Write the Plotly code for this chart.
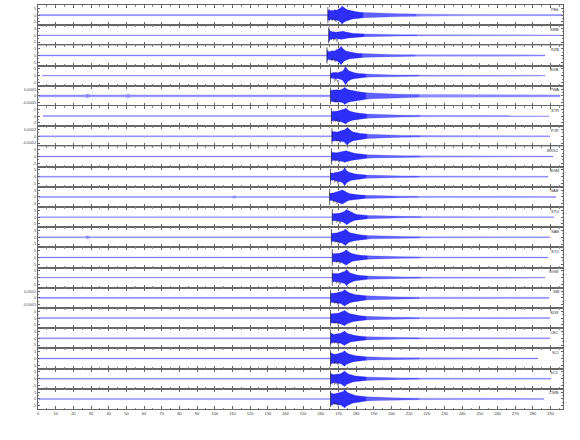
import plotly.graph_objects as go
from plotly.subplots import make_subplots

# ---------------- data ----------------
stations = ["PE6", "SMB", "RZB", "BGB", "PWA", "STR", "PJR", "BRG2", "BGM", "GAB",
            "STU", "SAB", "STO", "SGW", "SBI", "SDR", "CEC", "SCI", "SC2", "CWB"]
# P pick (onset) time in seconds
onsets = [164.0, 164.5, 163.5, 165.5, 165.5, 166.0, 166.3, 166.0, 165.5, 165.0,
          166.5, 166.0, 166.5, 166.5, 165.5, 165.5, 165.5, 165.5, 165.5, 165.5]
trace_start = [0.3, 0.3, 0.3, 2.3, 0.3, 2.8, 0.3, 0.3, 0.3, 0.3,
               0.3, 0.3, 0.3, 0.3, 0.3, 0.3, 0.3, 0.3, 0.3, 0.3]
trace_end = [296.4, 296.0, 286.8, 286.8, 295.2, 289.0, 289.6, 291.3, 288.5, 293.0,
             291.9, 289.6, 288.5, 286.8, 289.0, 289.6, 289.6, 282.8, 290.2, 286.2]
# pre-event noise half-amplitude (normalised units)
noise = [0.06, 0.04, 0.06, 0.04, 0.10, 0.05, 0.05, 0.04, 0.05, 0.05,
         0.04, 0.05, 0.04, 0.04, 0.06, 0.05, 0.05, 0.05, 0.05, 0.05]
# seconds after the pick where the envelope was read
rel_t = [0, 0.5, 1, 1.5, 2, 3, 4, 5, 6, 7, 7.5, 8, 8.5, 9, 10, 11, 12, 13, 14, 16,
         18, 20, 23, 26, 30, 35, 40, 50, 65, 80]
# seconds after the pick where the trace colour fades (strong -> medium -> light)
fade_at = [20, 50]
env = [
    [0.55, 0.45, 0.60, 0.40, 0.50, 0.45, 0.55, 0.50, 0.60, 0.70, 0.80, 0.95, 0.85, 0.75, 0.65, 0.55, 0.50, 0.45, 0.40, 0.35, 0.30, 0.28, 0.25, 0.22, 0.20, 0.17, 0.15, 0.12, 0.09, 0.07],
    [0.70, 0.50, 0.40, 0.45, 0.35, 0.38, 0.32, 0.35, 0.38, 0.42, 0.45, 0.40, 0.42, 0.36, 0.32, 0.28, 0.26, 0.22, 0.20, 0.18, 0.16, 0.14, 0.12, 0.10, 0.09, 0.08, 0.07, 0.06, 0.05, 0.05],
    [0.60, 0.40, 0.45, 0.40, 0.45, 0.50, 0.45, 0.55, 0.60, 0.75, 0.85, 0.95, 0.80, 0.70, 0.55, 0.45, 0.40, 0.35, 0.30, 0.25, 0.22, 0.20, 0.17, 0.15, 0.12, 0.10, 0.09, 0.08, 0.07, 0.07],
    [0.30, 0.25, 0.30, 0.35, 0.30, 0.35, 0.30, 0.35, 0.40, 0.50, 0.65, 0.80, 0.95, 0.80, 0.55, 0.45, 0.38, 0.32, 0.28, 0.24, 0.20, 0.17, 0.14, 0.12, 0.10, 0.08, 0.07, 0.06, 0.05, 0.05],
    [0.55, 0.60, 0.55, 0.65, 0.60, 0.65, 0.60, 0.62, 0.65, 0.70, 0.80, 0.90, 0.80, 0.75, 0.65, 0.60, 0.55, 0.50, 0.48, 0.42, 0.38, 0.34, 0.30, 0.26, 0.22, 0.20, 0.18, 0.15, 0.13, 0.12],
    [0.50, 0.45, 0.55, 0.45, 0.50, 0.50, 0.55, 0.55, 0.60, 0.70, 0.75, 0.85, 0.75, 0.65, 0.55, 0.48, 0.42, 0.38, 0.34, 0.30, 0.26, 0.22, 0.19, 0.16, 0.13, 0.11, 0.09, 0.08, 0.07, 0.06],
    [0.55, 0.50, 0.45, 0.50, 0.45, 0.45, 0.50, 0.50, 0.55, 0.60, 0.70, 0.80, 0.90, 0.85, 0.65, 0.55, 0.45, 0.40, 0.35, 0.30, 0.26, 0.22, 0.19, 0.16, 0.13, 0.11, 0.09, 0.08, 0.07, 0.06],
    [0.50, 0.45, 0.40, 0.45, 0.40, 0.40, 0.45, 0.45, 0.50, 0.55, 0.60, 0.65, 0.60, 0.55, 0.48, 0.42, 0.38, 0.34, 0.30, 0.26, 0.22, 0.19, 0.16, 0.14, 0.12, 0.10, 0.08, 0.07, 0.06, 0.05],
    [0.40, 0.35, 0.40, 0.35, 0.40, 0.45, 0.45, 0.50, 0.55, 0.65, 0.80, 0.95, 0.80, 0.65, 0.50, 0.42, 0.36, 0.32, 0.28, 0.24, 0.20, 0.17, 0.15, 0.13, 0.11, 0.09, 0.08, 0.07, 0.06, 0.06],
    [0.40, 0.35, 0.40, 0.40, 0.40, 0.45, 0.50, 0.55, 0.65, 0.75, 0.70, 0.60, 0.55, 0.50, 0.42, 0.36, 0.32, 0.28, 0.25, 0.22, 0.19, 0.16, 0.14, 0.12, 0.10, 0.09, 0.08, 0.07, 0.06, 0.06],
    [0.40, 0.35, 0.35, 0.40, 0.35, 0.40, 0.40, 0.45, 0.50, 0.60, 0.70, 0.80, 0.75, 0.70, 0.55, 0.45, 0.38, 0.32, 0.28, 0.24, 0.20, 0.17, 0.15, 0.13, 0.11, 0.09, 0.08, 0.06, 0.05, 0.05],
    [0.45, 0.40, 0.45, 0.40, 0.45, 0.45, 0.50, 0.55, 0.60, 0.70, 0.80, 0.85, 0.75, 0.65, 0.52, 0.45, 0.40, 0.35, 0.30, 0.26, 0.22, 0.19, 0.16, 0.14, 0.12, 0.10, 0.08, 0.07, 0.06, 0.06],
    [0.45, 0.40, 0.40, 0.45, 0.40, 0.45, 0.45, 0.50, 0.55, 0.65, 0.75, 0.80, 0.70, 0.60, 0.50, 0.42, 0.36, 0.32, 0.28, 0.24, 0.20, 0.17, 0.15, 0.13, 0.11, 0.09, 0.08, 0.06, 0.05, 0.05],
    [0.40, 0.45, 0.40, 0.40, 0.45, 0.40, 0.45, 0.50, 0.55, 0.60, 0.70, 0.85, 0.75, 0.62, 0.50, 0.43, 0.37, 0.32, 0.28, 0.24, 0.20, 0.17, 0.15, 0.13, 0.11, 0.09, 0.08, 0.06, 0.05, 0.05],
    [0.50, 0.45, 0.50, 0.45, 0.50, 0.50, 0.55, 0.55, 0.60, 0.70, 0.80, 0.85, 0.80, 0.70, 0.58, 0.50, 0.44, 0.38, 0.34, 0.30, 0.26, 0.22, 0.19, 0.16, 0.13, 0.11, 0.10, 0.08, 0.07, 0.07],
    [0.50, 0.45, 0.45, 0.50, 0.45, 0.50, 0.50, 0.55, 0.60, 0.70, 0.75, 0.80, 0.72, 0.62, 0.52, 0.45, 0.40, 0.35, 0.30, 0.26, 0.22, 0.19, 0.16, 0.14, 0.12, 0.10, 0.08, 0.07, 0.06, 0.06],
    [0.60, 0.50, 0.45, 0.45, 0.40, 0.45, 0.45, 0.50, 0.55, 0.60, 0.70, 0.75, 0.65, 0.58, 0.48, 0.42, 0.36, 0.32, 0.28, 0.24, 0.20, 0.17, 0.15, 0.13, 0.11, 0.09, 0.08, 0.07, 0.06, 0.06],
    [0.65, 0.55, 0.50, 0.45, 0.45, 0.45, 0.50, 0.50, 0.55, 0.65, 0.75, 0.80, 0.70, 0.60, 0.50, 0.44, 0.38, 0.33, 0.29, 0.25, 0.21, 0.18, 0.15, 0.13, 0.11, 0.09, 0.08, 0.07, 0.06, 0.06],
    [0.55, 0.50, 0.45, 0.45, 0.40, 0.45, 0.45, 0.50, 0.55, 0.65, 0.75, 0.80, 0.70, 0.60, 0.50, 0.44, 0.38, 0.33, 0.29, 0.25, 0.21, 0.18, 0.15, 0.13, 0.11, 0.09, 0.08, 0.07, 0.06, 0.06],
    [0.70, 0.60, 0.55, 0.55, 0.50, 0.55, 0.60, 0.60, 0.65, 0.75, 0.85, 0.95, 0.85, 0.75, 0.62, 0.55, 0.48, 0.42, 0.36, 0.31, 0.27, 0.23, 0.19, 0.16, 0.13, 0.11, 0.09, 0.08, 0.07, 0.06],
]
# isolated noise bursts before the event: (panel index, time, half-amplitude)
burst_panel = [4, 4, 9, 11]
burst_time = [28.0, 51.0, 111.0, 28.0]
burst_amp = [0.20, 0.18, 0.13, 0.15]
# y tick scale per panel
y_scale = ["5", "5", "5", "5", "0.0005", "2", "0.0002", "5", "5", "5",
           "5", "5", "5", "5", "0.0001", "5", "5", "5", "5", "5"]
phase_label = "Pg"
x_ticks = list(range(0, 300, 10))

# ---------------- figure ----------------
n = len(stations)
fig = make_subplots(rows=n, cols=1, shared_xaxes=True, vertical_spacing=0)
FONT = "Liberation Sans, Arial, sans-serif"
STYLES = [dict(fill="rgba(0,0,250,0.82)", line="rgba(0,0,255,0.7)"),
          dict(fill="rgba(20,20,250,0.68)", line="rgba(30,30,255,0.6)"),
          dict(fill="rgba(50,50,255,0.55)", line="rgba(60,60,255,0.5)")]
AXC = "#666"


def band(xs, ys, style, row):
    px = xs + xs[::-1]
    py = ys + [-v for v in ys[::-1]]
    fig.add_trace(go.Scatter(x=px, y=py, mode="lines", fill="toself",
                             fillcolor=style["fill"],
                             line=dict(color=style["line"], width=0.4),
                             hoverinfo="skip", showlegend=False), row=row, col=1)


for i in range(n):
    row = i + 1
    # pre-event noise
    xs = [trace_start[i]]
    ys = [noise[i]]
    bursts = [(burst_time[k], burst_amp[k]) for k in range(len(burst_panel)) if burst_panel[k] == i]
    for bt, ba in sorted(bursts):
        xs += [bt - 1.5, bt, bt + 1.5]
        ys += [noise[i], ba, noise[i]]
    xs.append(onsets[i])
    ys.append(noise[i])
    band(xs, ys, STYLES[2], row)
    # event, coda, tail
    bounds = [0] + fade_at + [1e9]
    for k in range(3):
        seg_x, seg_y = [], []
        if k == 0:
            seg_x.append(onsets[i])
            seg_y.append(noise[i])
        for rt, a in zip(rel_t, env[i]):
            if bounds[k] <= rt <= bounds[k + 1]:
                seg_x.append(onsets[i] + rt)
                seg_y.append(a)
        if k == 2:
            seg_x.append(trace_end[i])
            seg_y.append(noise[i])
        band(seg_x, seg_y, STYLES[k], row)
    # pick line
    fig.add_trace(go.Scatter(x=[onsets[i], onsets[i]], y=[-0.85, 0.85], mode="lines",
                             line=dict(color="#222", width=0.7),
                             hoverinfo="skip", showlegend=False), row=row, col=1)
    yref = "y" if row == 1 else f"y{row}"
    xref = "x" if row == 1 else f"x{row}"
    fig.add_annotation(x=onsets[i] + 1.0, y=-0.45, xref=xref, yref=yref, text=phase_label,
                       showarrow=False, xanchor="left", yanchor="middle",
                       font=dict(size=4, color="#222", family=FONT))
    fig.add_annotation(x=296, y=0.62, xref=xref, yref=yref, text=stations[i],
                       showarrow=False, xanchor="right", yanchor="middle",
                       font=dict(size=4, color="#333", family=FONT))
    s = y_scale[i]
    fig.update_yaxes(range=[-1.05, 1.05], tickvals=[-0.7, 0, 0.7],
                     ticktext=["-" + s, "0", s], ticks="inside", ticklen=2,
                     tickwidth=0.6, tickcolor=AXC,
                     minor=dict(ticks="inside", ticklen=1, dtick=0.35, tick0=0,
                                tickwidth=0.5, tickcolor="#888"),
                     showline=True, linecolor=AXC, linewidth=1, mirror="ticks",
                     showgrid=False, zeroline=False, fixedrange=True, automargin=False,
                     tickfont=dict(size=4, color="#444", family=FONT),
                     row=row, col=1)
    fig.update_xaxes(range=[0, 297], tickvals=x_ticks, ticks="inside", ticklen=3,
                     tickwidth=0.6, tickcolor=AXC,
                     minor=dict(ticks="inside", ticklen=1.5, dtick=5,
                                tickwidth=0.5, tickcolor="#888"),
                     showline=True, linecolor=AXC, linewidth=1, mirror="ticks",
                     showgrid=False, zeroline=False, automargin=False,
                     tickfont=dict(size=4, color="#333", family=FONT),
                     row=row, col=1)

fig.update_layout(width=580, height=440, margin=dict(l=38, r=17, t=5, b=31),
                  plot_bgcolor="white", paper_bgcolor="white", showlegend=False)

fig.write_html("out.html", config={"displayModeBar": False},
               post_script="document.body.style.margin='0';")
